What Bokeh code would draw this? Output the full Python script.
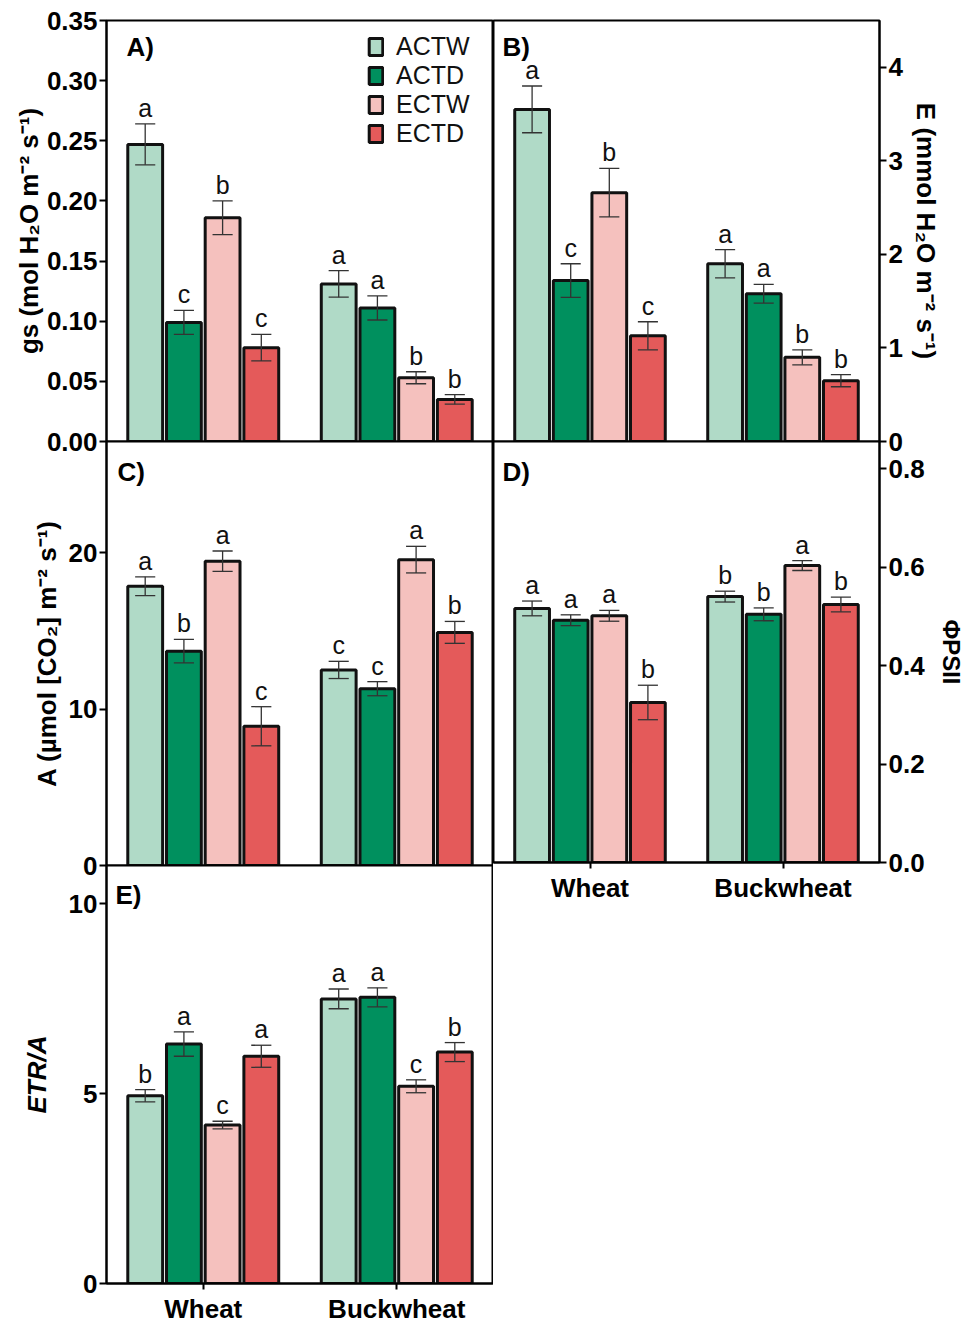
import math
from bokeh.plotting import figure
from bokeh.models import (FactorRange, ColumnDataSource, Label, Legend, LegendItem,
                          FixedTicker, NumeralTickFormatter)
from bokeh.transform import dodge
from bokeh.layouts import row, column
from bokeh.embed import file_html
from bokeh.resources import INLINE
from bokeh.core.properties import value

# ---------------- data ----------------
groups = ["Wheat", "Buckwheat"]
treatments = ["ACTW", "ACTD", "ECTW", "ECTD"]

# order: Wheat ACTW, ACTD, ECTW, ECTD, Buckwheat ACTW, ACTD, ECTW, ECTD
gs_mean = [0.247, 0.099, 0.186, 0.078, 0.131, 0.111, 0.053, 0.035]
gs_err = [0.017, 0.010, 0.014, 0.011, 0.011, 0.010, 0.005, 0.004]
gs_letters = ["a", "c", "b", "c", "a", "a", "b", "b"]
gs_ticks = [0.0, 0.05, 0.10, 0.15, 0.20, 0.25, 0.30, 0.35]

e_mean = [3.55, 1.72, 2.66, 1.13, 1.90, 1.58, 0.90, 0.65]
e_err = [0.25, 0.18, 0.26, 0.15, 0.15, 0.10, 0.08, 0.065]
e_letters = ["a", "c", "b", "c", "a", "a", "b", "b"]
e_ticks = [0, 1, 2, 3, 4]

a_mean = [17.85, 13.7, 19.45, 8.9, 12.5, 11.3, 19.55, 14.9]
a_err = [0.6, 0.75, 0.65, 1.25, 0.55, 0.45, 0.85, 0.7]
a_letters = ["a", "b", "a", "c", "c", "c", "a", "b"]
a_ticks = [0, 10, 20]

phi_mean = [0.516, 0.492, 0.501, 0.325, 0.540, 0.504, 0.603, 0.524]
phi_err = [0.015, 0.011, 0.011, 0.035, 0.011, 0.013, 0.010, 0.015]
phi_letters = ["a", "a", "a", "b", "b", "b", "a", "b"]
phi_ticks = [0.0, 0.2, 0.4, 0.6, 0.8]

etr_mean = [4.94, 6.30, 4.17, 5.98, 7.49, 7.53, 5.19, 6.09]
etr_err = [0.16, 0.32, 0.10, 0.29, 0.26, 0.25, 0.17, 0.25]
etr_letters = ["b", "a", "c", "a", "a", "a", "c", "b"]
etr_ticks = [0, 5, 10]

titles = {
    "A": "gs (mol H\u2082O m\u207b\u00b2 s\u207b\u00b9)",
    "B": "E (mmol H\u2082O m\u207b\u00b2 s\u207b\u00b9)",
    "C": "A (\u00b5mol [CO\u2082] m\u207b\u00b2 s\u207b\u00b9)",
    "D": "\u03a6PSII",
    "E": "ETR/A",
}

# ---------------- style ----------------
FONT = "Liberation Sans"
bar_colors = ["#B0DAC7", "#00905E", "#F5C1BE", "#E45A5A"]
offsets = [-0.3, -0.1, 0.1, 0.3]
BAR_W = 0.18
CAP = 0.052
BOT = 18    # extra room under a frame for its edge tick label
TOP = 12    # transparent room above a lower frame
OVER = BOT + TOP   # canvases overlap by this much


def make_panel(size, frame, ymax, ticks, fmt, means, errs, letters,
               yloc, show_x, title, title_style, title_size, title_standoff,
               top_margin):
    w, h = size
    fl, ft, fw, fh = frame  # frame position inside the canvas
    p = figure(width=w, height=h, x_range=FactorRange(*groups), y_range=(0, ymax),
               output_backend="svg", toolbar_location=None,
               y_axis_location=yloc, min_border=0,
               min_border_left=fl, min_border_right=w - fl - fw,
               min_border_top=ft, min_border_bottom=h - ft - fh,
               margin=(top_margin, 0, 0, 0))
    p.xgrid.visible = False
    p.ygrid.visible = False
    p.outline_line_color = "black"
    p.outline_line_width = 2
    p.outline_line_alpha = 1
    p.background_fill_color = "white"
    p.border_fill_alpha = 0

    ax = p.yaxis[0]
    ax.ticker = FixedTicker(ticks=ticks)
    ax.formatter = NumeralTickFormatter(format=fmt)
    ax.axis_line_width = 2
    ax.axis_line_color = "black"
    ax.major_tick_line_width = 2
    ax.major_tick_line_color = "black"
    ax.major_tick_out = 7
    ax.major_tick_in = 0
    ax.minor_tick_out = 0
    ax.minor_tick_in = 0
    ax.major_label_text_font = FONT
    ax.major_label_text_font_size = "26px"
    ax.major_label_text_font_style = "bold"
    ax.major_label_text_color = "black"
    ax.major_label_standoff = 2
    ax.axis_label = title
    ax.axis_label_text_font = FONT
    ax.axis_label_text_font_size = title_size
    ax.axis_label_text_font_style = title_style
    ax.axis_label_text_color = "black"
    ax.axis_label_standoff = title_standoff

    xa = p.xaxis[0]
    if show_x:
        xa.axis_line_width = 2
        xa.axis_line_color = "black"
        xa.major_tick_line_width = 2
        xa.major_tick_line_color = "black"
        xa.major_tick_out = 6
        xa.major_tick_in = 0
        xa.minor_tick_out = 0
        xa.major_label_text_font = FONT
        xa.major_label_text_font_size = "26px"
        xa.major_label_text_font_style = "bold"
        xa.major_label_text_color = "black"
        xa.major_label_standoff = 4
    else:
        xa.visible = False

    renderers = []
    for i, t in enumerate(treatments):
        m = [means[i], means[4 + i]]
        e = [errs[i], errs[4 + i]]
        src = ColumnDataSource(dict(
            group=groups, mean=m,
            upper=[m[0] + e[0], m[1] + e[1]],
            lower=[m[0] - e[0], m[1] - e[1]],
            letter=[letters[i], letters[4 + i]]))
        r = p.vbar(x=dodge("group", offsets[i], range=p.x_range), top="mean",
                   bottom=0, width=BAR_W, source=src, fill_color=bar_colors[i],
                   line_color="#111111", line_width=3)
        renderers.append(r)
        p.segment(x0=dodge("group", offsets[i], range=p.x_range), y0="lower",
                  x1=dodge("group", offsets[i], range=p.x_range), y1="upper",
                  source=src, line_color="#333333", line_width=1.3)
        for yk in ("upper", "lower"):
            p.segment(x0=dodge("group", offsets[i] - CAP, range=p.x_range), y0=yk,
                      x1=dodge("group", offsets[i] + CAP, range=p.x_range), y1=yk,
                      source=src, line_color="#333333", line_width=1.3)
        p.text(x=dodge("group", offsets[i], range=p.x_range), y="upper",
               text="letter", source=src, text_font=value(FONT),
               text_font_size="25px", text_align="center",
               text_baseline="alphabetic", y_offset=-16, text_color="#111111")

    def tag(text, cx, cy):
        # panel tag inside the frame; cx, cy in frame pixels from its top-left
        p.add_layout(Label(x=cx / fw * 2.0, y=ymax * (fh - cy) / fh, text=text,
                           text_font=FONT, text_font_size="26px",
                           text_font_style="bold", text_align="left",
                           text_baseline="middle", text_color="black"))

    return p, renderers, tag


# ---------------- panels ----------------
pA, rA, tagA = make_panel((493, 20 + 421 + BOT), (106, 20, 387, 421), 0.35, gs_ticks,
                          "0.00", gs_mean, gs_err, gs_letters, "left", False,
                          titles["A"], "bold", "26px", 0, 0)
tagA("A)", 20, 26)

legend = Legend(items=[LegendItem(label=t, renderers=[r]) for t, r in zip(treatments, rA)],
                location=(261, 293), orientation="vertical",
                glyph_width=17, glyph_height=21, label_standoff=12, spacing=0,
                padding=0, margin=0, label_text_font=FONT,
                label_text_font_size="25px", label_text_color="#111111",
                border_line_alpha=0, background_fill_alpha=0)
pA.add_layout(legend)

pB, rB, tagB = make_panel((476, 20 + 421 + BOT), (0, 20, 386, 421), 4.5, e_ticks, "0",
                          e_mean, e_err, e_letters, "right", False,
                          titles["B"], "bold", "26px", 5, 0)
tagB("B)", 9, 26)

pC, rC, tagC = make_panel((493, TOP + 424 + BOT), (106, TOP, 387, 424), 27.1, a_ticks,
                          "0", a_mean, a_err, a_letters, "left", False,
                          titles["C"], "bold", "26px", 4, -OVER)
tagC("C)", 11, 30)

pD, rD, tagD = make_panel((476, TOP + 424 + 40), (0, TOP, 386, 424), 0.855, phi_ticks,
                          "0.0", phi_mean, phi_err, phi_letters, "right", True,
                          titles["D"], "bold", "24px", 10, -OVER)
tagD("D)", 9, 31)

pE, rE, tagE = make_panel((493, TOP + 421 + 40), (106, TOP, 387, 421), 11.0, etr_ticks,
                          "0", etr_mean, etr_err, etr_letters, "left", True,
                          titles["E"], "bold italic", "26px", 14, -OVER)
tagE("E)", 9, 30)

layout = row(column(pA, pC, pE), column(pB, pD))

open("out.html", "w").write(file_html(layout, INLINE))
